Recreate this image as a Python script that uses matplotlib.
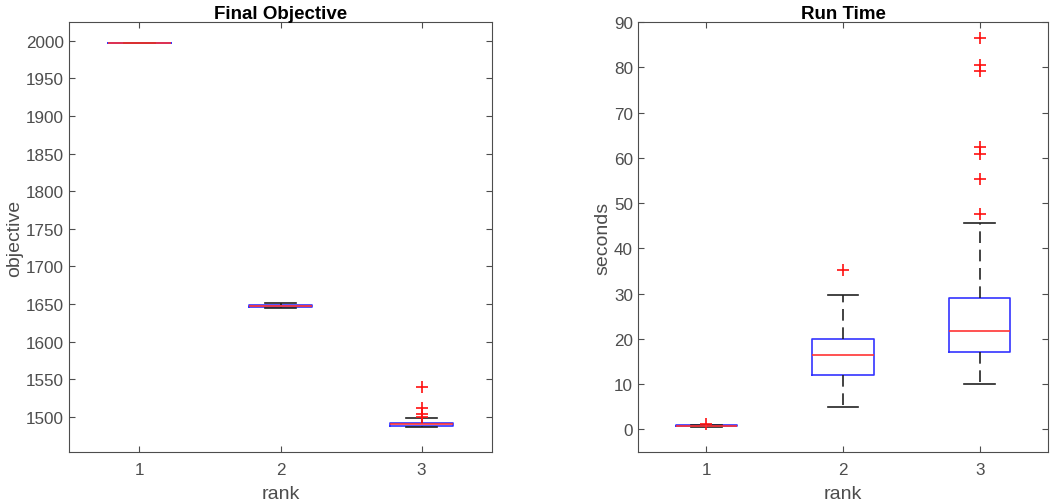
import matplotlib.pyplot as plt

plt.rcParams['font.family'] = ['Liberation Sans', 'DejaVu Sans']

ranks = [1, 2, 3]

# objective stats per rank: whislo, q1, med, q3, whishi, outliers
obj_whislo = [1997, 1645, 1486]
obj_q1 = [1997, 1646, 1487]
obj_med = [1997, 1647.5, 1490]
obj_q3 = [1997, 1649, 1492]
obj_whishi = [1997, 1651, 1498]
obj_fliers = [[], [], [1500, 1503, 1511, 1539]]

# run time stats per rank (seconds)
time_whislo = [0.6, 5.0, 10.0]
time_q1 = [0.7, 12.0, 17.0]
time_med = [0.8, 16.5, 21.7]
time_q3 = [0.9, 20.0, 29.0]
time_whishi = [1.0, 29.7, 45.5]
time_fliers = [[1.2], [35.2], [47.5, 55.3, 60.8, 62.5, 79.2, 80.5, 86.5]]

obj_yticks = list(range(1500, 2001, 50))
time_yticks = list(range(0, 91, 10))

grey = '#4d4d4d'


def make_stats(lo, q1, med, q3, hi, fl):
    return [dict(whislo=lo[i], q1=q1[i], med=med[i], q3=q3[i], whishi=hi[i], fliers=fl[i])
            for i in range(len(lo))]


def draw(ax, stats, title, ylabel, yticks, ylim):
    ax.bxp(stats, positions=ranks, widths=0.45, capwidths=0.225, showfliers=True,
           boxprops=dict(color='#3333ff', linewidth=1.2),
           medianprops=dict(color='#ff3333', linewidth=1.2),
           whiskerprops=dict(color='#222222', linestyle=(0, (7, 4)), linewidth=1.2),
           capprops=dict(color='#222222', linewidth=1.2),
           flierprops=dict(marker='+', markeredgecolor='#ff1111', markersize=8, markeredgewidth=1.2))
    ax.set_xlim(0.5, 3.5)
    ax.set_ylim(*ylim)
    ax.set_xticks(ranks)
    ax.set_xticklabels([str(r) for r in ranks])
    ax.set_yticks(yticks)
    ax.set_title(title, fontsize=13.5, fontweight='bold', pad=3)
    ax.set_xlabel('rank', fontsize=14, color=grey, labelpad=6)
    ax.set_ylabel(ylabel, fontsize=14, color=grey, labelpad=2)
    ax.tick_params(direction='in', top=True, right=True, labelsize=12.3, colors=grey, length=4)
    ax.tick_params(axis='x', pad=7)
    for s in ax.spines.values():
        s.set_color(grey)


fig = plt.figure(figsize=(10.5, 5.02), dpi=100)
ax1 = fig.add_axes([0.0657, 0.0976, 0.4029, 0.8564])
ax2 = fig.add_axes([0.6076, 0.0976, 0.3905, 0.8564])

draw(ax1, make_stats(obj_whislo, obj_q1, obj_med, obj_q3, obj_whishi, obj_fliers),
     'Final Objective', 'objective', obj_yticks, (1453, 2025))
draw(ax2, make_stats(time_whislo, time_q1, time_med, time_q3, time_whishi, time_fliers),
     'Run Time', 'seconds', time_yticks, (-5, 90))

fig.savefig('out.png', dpi=100)
